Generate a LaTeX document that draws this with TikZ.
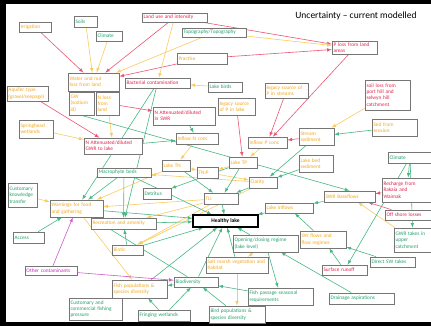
\documentclass[tikz,border=0pt]{standalone}
\usepackage{fontspec}
\setmainfont{Carlito}
\usepackage{tikz}
\usetikzlibrary{backgrounds}
\tikzset{>=latex}
\definecolor{redtx}{RGB}{226,34,78}
\definecolor{orgtx}{RGB}{242,168,34}
\definecolor{grntx}{RGB}{38,160,108}
\definecolor{magtx}{RGB}{196,44,190}
\definecolor{redln}{RGB}{236,86,116}
\definecolor{orgln}{RGB}{250,204,96}
\definecolor{grnln}{RGB}{72,184,132}
\definecolor{magln}{RGB}{206,92,204}
\definecolor{boxln}{RGB}{118,118,118}
\tikzset{
	box/.style={draw=boxln, fill=white, line width=.7pt, inner sep=1.5pt, align=left, font=\fontsize{5.3}{6.3}\selectfont},
	wh/.style 2 args={text width=#1pt, minimum height=#2pt},
	rbox/.style={box, text=redtx},
	obox/.style={box, text=orgtx},
	gbox/.style={box, text=grntx},
	mbox/.style={box, text=magtx},
	lakebox/.style={draw=black, fill=white, line width=1.2pt, font=\bfseries\fontsize{5.5}{6.5}\selectfont, minimum width=65pt, minimum height=12pt, inner sep=1pt},
	arr/.style={->, line width=.6pt, draw=#1}
}

\begin{document}
\begin{tikzpicture}[x=1pt, y=-1pt]
    \useasboundingbox (0,0) rectangle (431,326);
    \node[font=\fontsize{9.5}{11}\selectfont] (title) at (356,16) {Uncertainty -- current modelled};
    \node[obox, wh={29}{10}] (irrig) at (35,27) {Irrigation};
    \node[gbox, wh={20}{11}] (soils) at (85.5,21.5) {Soils};
    \node[gbox, wh={23}{10}] (climA) at (109,36) {Climate};
    \node[obox, wh={48}{18}] (water) at (93.5,82) {Water and nut\\loss from land};
    \node[obox, wh={22}{23}] (gwsod) at (81.5,103.5) {GW\\(sodium\\id)};
    \node[obox, wh={20}{23}] (nloss) at (107.5,103.5) {N loss\\from\\land};
    \node[rbox, wh={62}{10}] (bact) at (157.5,83) {Bacterial contamination};
    \node[obox, wh={38}{15}] (aquif) at (27.5,93.5) {Aquifer type\\(gravel/seepage)};
    \node[rbox, wh={62}{9}] (landuse) at (174.5,17.5) {Land use and intensity};
    \node[gbox, wh={61}{9}] (topo) at (214,32.5) {Topography/Topography};
    \node[obox, wh={47}{11}] (pract) at (202,58.5) {Practise};
    \node[gbox, wh={31}{10}] (birds) at (225,87) {Lake birds};
    \node[obox, wh={34}{17}] (legl) at (236.5,106.5) {legacy source\\of P in lake};
    \node[obox, wh={40}{15}] (legs) at (286.5,90.5) {legacy source of\\P in streams};
    \node[rbox, wh={42}{12}] (ploss) at (354.5,48) {P loss from land\\areas};
    \node[rbox, wh={42}{30}] (soil) at (387.5,95) {soil loss from\\port hill and\\selwyn hill\\catchment};
    \node[obox, wh={31}{18}] (springh) at (36,129) {Springhead\\wetlands};
    \node[rbox, wh={55}{16}] (nattg) at (113,146) {N Attenuated/diluted\\GWR to lake};
    \node[gbox, wh={51}{9}] (macro) at (124,172.5) {Macrophyte beds};
    \node[gbox, wh={26}{24}] (custk) at (22.5,195) {Customary\\knowledge\\transfer};
    \node[obox, wh={50}{17}] (warn) at (76.5,208.5) {Warnings for food\\and gathering};
    \node[rbox, wh={59}{18}] (natts) at (184,116) {N Attenuated/diluted\\in SWR};
    \node[obox, wh={39}{11}] (inN) at (197,138.5) {Inflow N conc};
    \node[obox, wh={36}{11}] (inP) at (267.5,142.5) {Inflow P conc};
    \node[obox, wh={25}{11}] (laketn) at (176,165.5) {Lake TN};
    \node[obox, wh={25}{11}] (laketp) at (243,162.5) {Lake TP};
    \node[obox, wh={18}{11}] (tnp) at (207.5,172.5) {TN:P};
    \node[obox, wh={25}{11}] (clar) at (263,182.5) {Clarity};
    \node[gbox, wh={25}{11}] (detr) at (157,193.5) {Detritus};
    \node[obox, wh={31}{11}] (tli) at (221,198.5) {TLI};
    \node[obox, wh={45}{10}] (linf) at (289,208) {Lake inflows};
    \node[lakebox] (healthy) at (225.5,221) {Healthy lake};
    \node[obox, wh={62}{11}] (recr) at (123.5,223.5) {Recreation and amenity};
    \node[obox, wh={32}{17}] (strsed) at (316.5,136.5) {Stream\\sediment};
    \node[obox, wh={42}{17}] (sederos) at (394.5,127.5) {Sed from\\erosion};
    \node[obox, wh={31}{17}] (lbsed) at (316,163.5) {Lake bed\\sediment};
    \node[gbox, wh={41}{11}] (climB) at (410,157.5) {Climate};
    \node[rbox, wh={47}{24}] (rech) at (407,190) {Recharge from\\Rakaia and\\Waimak};
    \node[obox, wh={48}{11}] (swrb) at (349.5,196.5) {SWR Baseflows};
    \node[rbox, wh={44}{10}] (offs) at (408.5,215) {Off shore losses};
    \node[gbox, wh={35}{24}] (gwrt) at (413,240) {GWR takes in\\upper\\catchment};
    \node[obox, wh={43}{17}] (swf) at (323,239.5) {SW flows and\\flow regimes};
    \node[gbox, wh={42}{10}] (dsw) at (392.5,262) {Direct SW takes};
    \node[rbox, wh={42}{10}] (srun) at (344.5,270) {Surface runoff};
    \node[gbox, wh={62}{11}] (drain) at (361.5,298.5) {Drainage aspirations};
    \node[gbox, wh={62}{17}] (fpass) at (280.5,296.5) {Fish passage seasonal\\requirements};
    \node[gbox, wh={62}{17}] (openc) at (265.5,243.5) {Opening/closing regime\\(lake level)};
    \node[obox, wh={59}{16}] (salt) at (237,265) {Salt marsh vegetation and\\habitat};
    \node[gbox, wh={41}{10}] (biod) at (196,282) {Biodiversity};
    \node[obox, wh={52}{18}] (fishp) at (139.5,289) {Fish populations \&\\species diversity};
    \node[gbox, wh={49}{11}] (fring) at (164,315.5) {Fringing wetlands};
    \node[gbox, wh={53}{17}] (birdp) at (237,314.5) {Bird populations \&\\species diversity};
    \node[gbox, wh={50}{22}] (custc) at (95.5,309) {Customary and\\commercial fishing\\pressure};
    \node[mbox, wh={49}{9}] (othc) at (51,270.5) {Other contaminants};
    \node[gbox, wh={28}{11}] (access) at (28.5,237.5) {Access};
    \node[obox, wh={28}{10}] (biotic) at (127.5,250) {Biotic};
    \begin{pgfonlayer}{background}
        \fill[black] (0,0) rectangle (431,326);
        \fill[white] (6,4) rectangle (431,322);
        \foreach \a/\b in {irrig/water, landuse/water, pract/water, landuse/ploss, pract/ploss, aquif/nattg, nloss/natts, legl/laketp, legs/inP, ploss/inP, strsed/inP, rech/swrb, offs/swrb}
            \draw[arr=redln] (\a) -- (\b);
        \foreach \a/\b in {soils/water, climA/water, topo/water, landuse/bact, topo/ploss, birds/bact, springh/nattg, nloss/nattg, inN/laketn, soil/strsed, inP/laketp, gwrt/swrb, openc/salt, salt/birdp, custc/fishp, custk/warn, warn/fishp, laketn/tnp, laketp/tnp, tnp/clar, tli/recr, tli/warn, tli/biotic, clar/macro, clar/biotic, laketn/warn}
            \draw[arr=orgln] (\a) -- (\b);
        \foreach \a/\b in {bact/warn, bact/recr, natts/inN, nattg/inN, sederos/strsed, strsed/clar, lbsed/clar, climB/rech, climB/gwrt, climB/srun, swrb/linf, srun/swf, dsw/swf, swf/linf, drain/openc, linf/healthy, openc/healthy, openc/fpass, salt/healthy, biod/healthy, biod/fishp, fring/biod, fring/fishp, birdp/biod, fpass/biod, fishp/healthy, access/warn, biod/warn, warn/healthy, recr/healthy, macro/warn, macro/recr, macro/healthy, biotic/recr, biotic/healthy, tli/healthy, laketn/tli, laketp/tli, clar/tli, laketp/detr}
            \draw[arr=grnln] (\a) -- (\b);
        \draw[arr=grnln] (gwsod.south) -- (swrb.north);
        \foreach \a/\b in {othc/warn, othc/biod}
            \draw[arr=magln] (\a) -- (\b);
    \end{pgfonlayer}
\end{tikzpicture}
\end{document}
